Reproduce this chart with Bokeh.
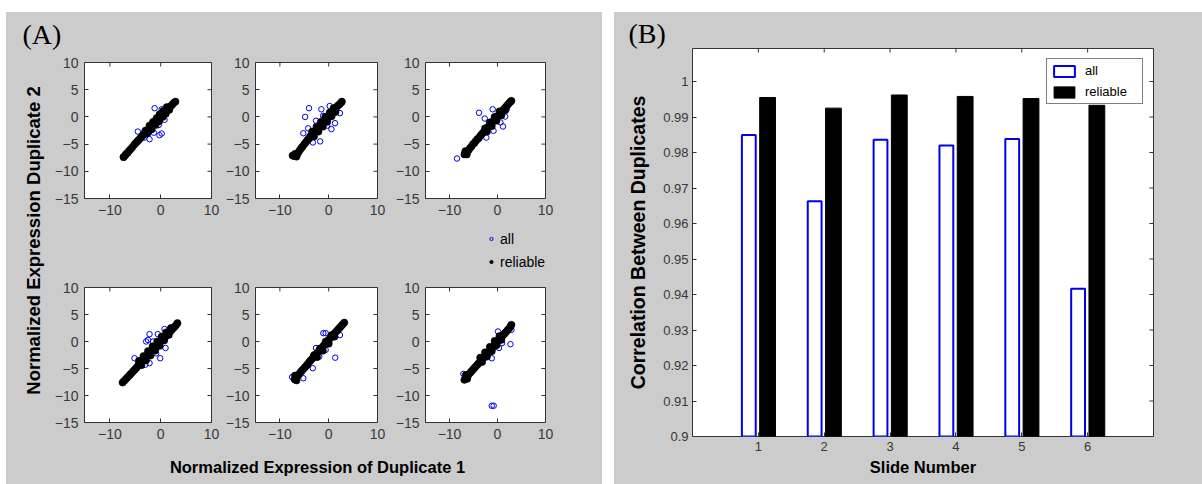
from math import pi
from bokeh.plotting import figure
from bokeh.layouts import row, column
from bokeh.models import (Range1d, FixedTicker, Label, Legend, LegendItem, Title,
                          Spacer, ColumnDataSource)
from bokeh.transform import dodge
from bokeh.embed import file_html
from bokeh.resources import INLINE

GRAY = "#cccccc"
SANS = "Liberation Sans"
SERIF = "Liberation Serif"
TICK_COLOR = "#383838"
BLUE = "#0000ee"

# ---------------- data: panel (A) scatter plots ----------------
scatter_xticks = [-10, 0, 10]
scatter_yticks = [10, 5, 0, -5, -10, -15]

# slide 1
out1_x = [-1.2, 0.2, -4.5, -2.2, -1.35, -0.24, 0.2, 0.75, -3.2, -3.5, 1.1, -7.45, -0.4]
out1_y = [1.6, 1.4, -2.7, -4.1, -2.9, -3.36, -3.05, -0.54, -3.8, -3.05, 0.8, -7.3, -1.5]
rel1_x = [-7.3, -7.0, -6.8, -6.5, -6.2, -5.9, -5.6, -5.2, -4.9, -4.6, -4.3, -4.0, -3.7, -3.4,
          -3.1, -2.8, -2.5, -2.2, -1.9, -1.6, -1.3, -1.0, -0.7, -0.4, -0.1, 0.2, 0.5, 0.8,
          1.1, 1.4, 1.7, 2.0, 2.3, 2.6, 2.9,
          -3.0, -2.2, -1.5, -0.8, -0.2, 0.5, 1.2, -2.6, -1.8, -1.0, -0.3, 0.4, 1.0, 1.7]
rel1_y = [-7.4, -7.1, -6.8, -6.6, -6.2, -5.9, -5.6, -5.1, -4.8, -4.5, -4.2, -3.9, -3.6, -3.3,
          -3.0, -2.7, -2.4, -2.1, -1.8, -1.5, -1.2, -0.9, -0.6, -0.3, 0.0, 0.3, 0.6, 0.9,
          1.2, 1.5, 1.7, 2.0, 2.3, 2.6, 2.8,
          -2.5, -1.6, -0.9, -0.2, 0.5, 1.1, 1.8, -3.0, -2.3, -1.5, -0.8, 0.0, 0.6, 1.3]

# slide 2
out2_x = [-4.04, -4.83, -5.2, -4.2, -2.6, -1.5, 0.2, -1.75, -3.25, -0.3, 0.55, 2.3, 1.3, -1.15, -3.9]
out2_y = [1.6, 0.0, -3.0, -2.1, -0.7, 1.4, 2.0, -4.5, -4.7, -1.6, -2.25, 0.7, -1.15, 0.2, -4.1]
rel2_x = [-7.4, -7.1, -6.8, -6.5, -6.2, -5.9, -5.6, -5.3, -5.0, -4.7, -4.4, -4.1, -3.8, -3.5,
          -3.2, -2.9, -2.6, -2.3, -2.0, -1.7, -1.4, -1.1, -0.8, -0.5, -0.2, 0.1, 0.4, 0.7,
          1.0, 1.3, 1.6, 1.9, 2.2, 2.5, 2.7,
          -3.4, -2.5, -1.6, -0.7, 0.2, 1.0, -3.0, -2.1, -1.2, -0.3, 0.6, 1.4, -6.6, -6.9]
rel2_y = [-7.1, -7.2, -7.1, -6.9, -6.5, -6.1, -5.7, -5.4, -5.0, -4.7, -4.3, -4.0, -3.6, -3.3,
          -3.0, -2.7, -2.4, -2.1, -1.8, -1.5, -1.2, -0.9, -0.6, -0.3, 0.0, 0.3, 0.6, 0.9,
          1.2, 1.5, 1.8, 2.1, 2.3, 2.6, 2.8,
          -2.7, -1.8, -0.9, 0.0, 0.8, 1.6, -3.6, -2.7, -1.8, -0.9, 0.1, 0.9, -7.3, -6.8]

# slide 3
out3_x = [-8.44, -3.85, -1.0, -2.66, -2.33, -0.83, 1.14, 1.6, 0.6, 1.9]
out3_y = [-7.65, 0.75, 1.4, -0.3, -3.8, -2.56, -1.76, 0.07, -1.0, 1.4]
rel3_x = [-6.9, -6.6, -6.3, -6.0, -5.7, -5.4, -5.1, -4.8, -4.5, -4.2, -3.9, -3.6, -3.3, -3.0,
          -2.7, -2.4, -2.1, -1.8, -1.5, -1.2, -0.9, -0.6, -0.3, 0.0, 0.3, 0.6, 0.9, 1.2,
          1.5, 1.8, 2.1, 2.4, 2.7, 2.9,
          -6.4, -6.7, -2.6, -1.6, -0.6, 0.4, -2.2, -1.2, -0.2, 0.8, 1.6]
rel3_y = [-6.9, -6.7, -6.4, -6.1, -5.7, -5.4, -5.0, -4.8, -4.4, -4.1, -3.9, -3.5, -3.2, -2.9,
          -2.6, -2.3, -2.0, -1.7, -1.4, -1.1, -0.8, -0.5, -0.2, 0.1, 0.4, 0.7, 1.0, 1.3,
          1.6, 1.9, 2.2, 2.5, 2.8, 2.95,
          -6.9, -6.3, -2.1, -1.0, 0.0, 1.0, -2.7, -1.7, -0.7, 0.3, 1.2]

# slide 4
out4_x = [-2.2, -0.56, -2.86, -2.5, -5.15, -0.1, 0.95, 0.75, -1.5, -0.9, -2.2, -3.05]
out4_y = [1.36, 1.36, 0.0, 0.3, -3.1, -3.1, -1.2, 2.3, 0.0, -2.2, -4.0, -4.3]
rel4_x = [-7.5, -7.2, -6.9, -6.6, -6.3, -6.0, -5.7, -5.4, -5.1, -4.8, -4.5, -4.2, -3.9, -3.6,
          -3.3, -3.0, -2.7, -2.4, -2.1, -1.8, -1.5, -1.2, -0.9, -0.6, -0.3, 0.0, 0.3, 0.6,
          0.9, 1.2, 1.5, 1.8, 2.1, 2.4, 2.7, 3.0, 3.3,
          -4.3, -3.4, -2.5, -1.6, -0.7, 0.2, 1.1, 2.0, -3.8, -2.9, -2.0, -1.1, -0.2, 0.7, 1.6]
rel4_y = [-7.6, -7.3, -7.0, -6.7, -6.4, -6.1, -5.8, -5.5, -5.2, -4.9, -4.5, -4.2, -3.9, -3.6,
          -3.3, -3.0, -2.7, -2.4, -2.1, -1.8, -1.5, -1.2, -0.9, -0.6, -0.3, 0.0, 0.3, 0.6,
          0.9, 1.2, 1.5, 1.8, 2.1, 2.4, 2.7, 3.0, 3.4,
          -3.6, -2.7, -1.8, -0.9, 0.0, 0.9, 1.7, 2.5, -4.4, -3.5, -2.6, -1.7, -0.8, 0.2, 1.2]

# slide 5
out5_x = [-1.1, -0.63, 1.34, -7.5, -5.2, -3.25, -1.94, -0.63, 2.3, -2.6]
out5_y = [1.55, 1.55, -3.0, -6.6, -6.8, -4.95, -2.8, -1.55, 1.2, -1.2]
rel5_x = [-7.0, -6.7, -6.4, -6.1, -5.8, -5.5, -5.2, -4.9, -4.6, -4.3, -4.0, -3.7, -3.4, -3.1,
          -2.8, -2.5, -2.2, -1.9, -1.6, -1.3, -1.0, -0.7, -0.4, -0.1, 0.2, 0.5, 0.8, 1.1,
          1.4, 1.7, 2.0, 2.3, 2.6, 2.9, 3.2,
          -6.6, -6.9, -3.0, -1.8, -0.6, 0.6, -2.4, -1.2, 0.0, 1.2]
rel5_y = [-7.0, -6.7, -6.4, -6.1, -5.7, -5.4, -5.1, -4.8, -4.5, -4.2, -3.8, -3.5, -3.2, -2.9,
          -2.6, -2.3, -2.0, -1.7, -1.4, -1.1, -0.7, -0.4, -0.1, 0.2, 0.5, 0.8, 1.1, 1.4,
          1.7, 2.0, 2.3, 2.6, 2.9, 3.2, 3.5,
          -7.2, -6.3, -2.5, -1.3, 0.0, 1.2, -2.9, -1.7, -0.4, 0.9]

# slide 6
out6_x = [-1.2, -0.8, 2.7, 0.1, 2.9, 0.95, -1.2, -1.9, -7.1, 0.3]
out6_y = [-11.9, -11.9, -0.5, 1.85, 2.15, -0.3, -3.1, -2.2, -6.0, -1.2]
rel6_x = [-6.9, -6.6, -6.3, -6.0, -5.7, -5.4, -5.1, -4.8, -4.5, -4.2, -3.9, -3.6, -3.3, -3.0,
          -2.7, -2.4, -2.1, -1.8, -1.5, -1.2, -0.9, -0.6, -0.3, 0.0, 0.3, 0.6, 0.9, 1.2,
          1.5, 1.8, 2.1, 2.4, 2.7, 2.9,
          -6.6, -6.3, -3.6, -2.6, -1.6, -0.6, 0.4, -3.2, -2.2, -1.2, -0.2, 0.8]
rel6_y = [-7.1, -6.8, -6.4, -6.1, -5.8, -5.5, -5.2, -4.9, -4.6, -4.3, -4.0, -3.7, -3.4, -3.1,
          -2.8, -2.5, -2.2, -1.9, -1.6, -1.3, -1.0, -0.6, -0.3, 0.0, 0.3, 0.6, 0.9, 1.2,
          1.5, 1.8, 2.1, 2.4, 2.8, 3.1,
          -6.2, -6.9, -3.0, -2.0, -1.0, 0.1, 1.0, -3.8, -2.8, -1.8, -0.7, 0.3]

# ---------------- data: panel (B) bars ----------------
slides = [1, 2, 3, 4, 5, 6]
slide_labels = ["1", "2", "3", "4", "5", "6"]
corr_all = [0.9849, 0.9663, 0.9836, 0.9820, 0.9838, 0.9416]
corr_reliable = [0.9955, 0.9925, 0.9962, 0.9958, 0.9952, 0.9933]
corr_yticks = [0.9, 0.91, 0.92, 0.93, 0.94, 0.95, 0.96, 0.97, 0.98, 0.99, 1.0]
corr_ytick_labels = ["0.9", "0.91", "0.92", "0.93", "0.94", "0.95", "0.96", "0.97",
                     "0.98", "0.99", "1"]


def style_axis(ax, size, standoff):
    ax.major_tick_in = 4
    ax.major_tick_out = 0
    ax.minor_tick_line_color = None
    ax.axis_line_color = None
    ax.major_tick_line_color = "#333333"
    ax.major_label_text_font = SANS
    ax.major_label_text_font_size = size
    ax.major_label_text_color = TICK_COLOR
    ax.major_label_standoff = standoff


def mirror_ticks(p, xticks, yticks, size=8):
    # inward tick marks on the top and right edges of the box (half of each dash is clipped)
    top = p.y_range.end
    right = p.x_range.end
    p.scatter(x=xticks, y=[top] * len(xticks), marker="dash", angle=pi / 2, size=size,
              line_color="#333333", line_width=1)
    p.scatter(x=[right] * len(yticks), y=yticks, marker="dash", angle=0, size=size,
              line_color="#333333", line_width=1)


def scatter_panel(ox, oy, rx, ry, width, height, left, right, top, bottom):
    p = figure(width=width, height=height, x_range=Range1d(-15, 10), y_range=Range1d(-15, 10),
               output_backend="svg", toolbar_location=None,
               min_border_left=left, min_border_right=right,
               min_border_top=top, min_border_bottom=bottom,
               border_fill_color=GRAY, background_fill_color="white",
               outline_line_color="#333333", outline_line_width=1)
    p.xgrid.visible = False
    p.ygrid.visible = False
    p.xaxis.ticker = FixedTicker(ticks=scatter_xticks)
    p.yaxis.ticker = FixedTicker(ticks=scatter_yticks)
    style_axis(p.xaxis[0], "14px", 6)
    style_axis(p.yaxis[0], "14px", 6)
    mirror_ticks(p, scatter_xticks, scatter_yticks)
    all_x = ox + rx
    all_y = oy + ry
    p.scatter(all_x, all_y, marker="circle", size=5.5, fill_color=None,
              line_color=BLUE, line_width=1)
    p.scatter(rx, ry, marker="circle", size=7.2, fill_color="black",
              line_color="black", line_width=0.5)
    return p


def blank_fig(w, h):
    p = figure(width=w, height=h, x_range=Range1d(0, w), y_range=Range1d(0, h),
               output_backend="svg", toolbar_location=None, min_border=0,
               x_axis_location=None, y_axis_location=None,
               border_fill_color=GRAY, background_fill_color=GRAY, outline_line_color=None)
    p.grid.visible = False
    return p


BG = {"background-color": GRAY}
NAN = float("nan")

# ---------------- panel (A) ----------------
f1 = scatter_panel(out1_x, out1_y, rel1_x, rel1_y, 172, 167, 34, 11, 7, 24)
f2 = scatter_panel(out2_x, out2_y, rel2_x, rel2_y, 170, 167, 29, 15, 7, 24)
f3 = scatter_panel(out3_x, out3_y, rel3_x, rel3_y, 210, 167, 27, 57, 7, 24)
f4 = scatter_panel(out4_x, out4_y, rel4_x, rel4_y, 172, 170, 34, 11, 13, 22)
f5 = scatter_panel(out5_x, out5_y, rel5_x, rel5_y, 170, 170, 29, 15, 13, 22)
f6 = scatter_panel(out6_x, out6_y, rel6_x, rel6_y, 210, 170, 27, 57, 13, 22)

# strip between the two rows that carries the legend of panel (A);
# the swatch renderers hold a single NaN point so only their legend glyph is drawn
legStrip = blank_fig(552, 52)
sw_all = legStrip.scatter(x=[NAN], y=[NAN], marker="circle", size=5.5, fill_color=None,
                          line_color=BLUE, line_width=1)
sw_rel = legStrip.scatter(x=[NAN], y=[NAN], marker="circle", size=4, fill_color="black",
                          line_color="black")
legA = Legend(items=[LegendItem(label="all", renderers=[sw_all]),
                     LegendItem(label="reliable", renderers=[sw_rel])],
              location=(437, 4), border_line_color=None, background_fill_alpha=0,
              label_text_font=SANS, label_text_font_size="14px", label_text_color="black",
              glyph_width=8, glyph_height=17, label_height=17, spacing=6, padding=0,
              margin=0, label_standoff=5)
legStrip.add_layout(legA)

topA = blank_fig(596, 43)
topA.add_layout(Label(x=16, y=21, text="(A)", text_font=SERIF, text_font_size="28px",
                      text_align="left", text_baseline="middle", text_color="black"))

ylabA = blank_fig(44, 429)
ylabA.add_layout(Label(x=27, y=244, text="Normalized Expression Duplicate 2", angle=pi / 2,
                       text_font=SANS, text_font_size="18.5px", text_font_style="bold",
                       text_align="center", text_baseline="middle", text_color="black"))

xlabA = blank_fig(552, 40)
xlabA.add_layout(Label(x=267, y=18, text="Normalized Expression of Duplicate 1",
                       text_font=SANS, text_font_size="16.5px", text_font_style="bold",
                       text_align="center", text_baseline="middle", text_color="black"))

panelA = column(topA,
                row(ylabA,
                    column(row(f1, f2, f3, styles=BG), legStrip,
                           row(f4, f5, f6, styles=BG), xlabA, styles=BG),
                    styles=BG),
                styles=BG)

# ---------------- panel (B) ----------------
src = ColumnDataSource(dict(slide=slides, all=corr_all, reliable=corr_reliable))
pB = figure(width=588, height=472, x_range=Range1d(0, 7), y_range=Range1d(0.9, 1.0093),
            output_backend="svg", toolbar_location=None,
            min_border_left=78, min_border_right=49, min_border_top=36, min_border_bottom=48,
            border_fill_color=GRAY, background_fill_color="white",
            outline_line_color="#333333", outline_line_width=1)
pB.xgrid.visible = False
pB.ygrid.visible = False
xaxB = pB.xaxis[0]
yaxB = pB.yaxis[0]
xaxB.ticker = FixedTicker(ticks=slides)
xaxB.major_label_overrides = dict(zip(slides, slide_labels))
yaxB.ticker = FixedTicker(ticks=corr_yticks)
yaxB.major_label_overrides = dict(zip(corr_yticks, corr_ytick_labels))
style_axis(xaxB, "13px", 5)
style_axis(yaxB, "13px", 4)
mirror_ticks(pB, slides, corr_yticks)
yaxB.axis_label = "Correlation Between Duplicates"
xaxB.axis_label = "Slide Number"
for ax, sz, so in ((yaxB, "19.5px", 11), (xaxB, "16.5px", 4)):
    ax.axis_label_text_font = SANS
    ax.axis_label_text_font_size = sz
    ax.axis_label_text_font_style = "bold"
    ax.axis_label_text_color = "black"
    ax.axis_label_standoff = so

r_all = pB.vbar(x=dodge("slide", -0.145, range=pB.x_range), top="all", bottom=0.9, width=0.21,
                source=src, fill_color="white", line_color=BLUE, line_width=2)
r_rel = pB.vbar(x=dodge("slide", 0.14, range=pB.x_range), top="reliable", bottom=0.9,
                width=0.24, source=src, fill_color="black", line_color="black")
legB = Legend(items=[LegendItem(label="all", renderers=[r_all]),
                     LegendItem(label="reliable", renderers=[r_rel])],
              location="top_right", margin=10, padding=4, spacing=6,
              glyph_width=26, glyph_height=14, label_height=14, label_width=53,
              label_standoff=8, border_line_color="black", border_line_width=1,
              background_fill_color="white", background_fill_alpha=1,
              label_text_font=SANS, label_text_font_size="13px", label_text_color="black")
pB.add_layout(legB)
pB.add_layout(Title(text="(B)", align="left", offset=-64, standoff=0,
                    text_font=SERIF, text_font_size="28px", text_font_style="normal",
                    text_color="black"), "above")

panelB = column(pB, styles=BG)

root = column(Spacer(width=1202, height=12),
              row(Spacer(width=6, height=472), panelA, Spacer(width=12, height=472), panelB))

open("out.html", "w").write(file_html(root, INLINE))
